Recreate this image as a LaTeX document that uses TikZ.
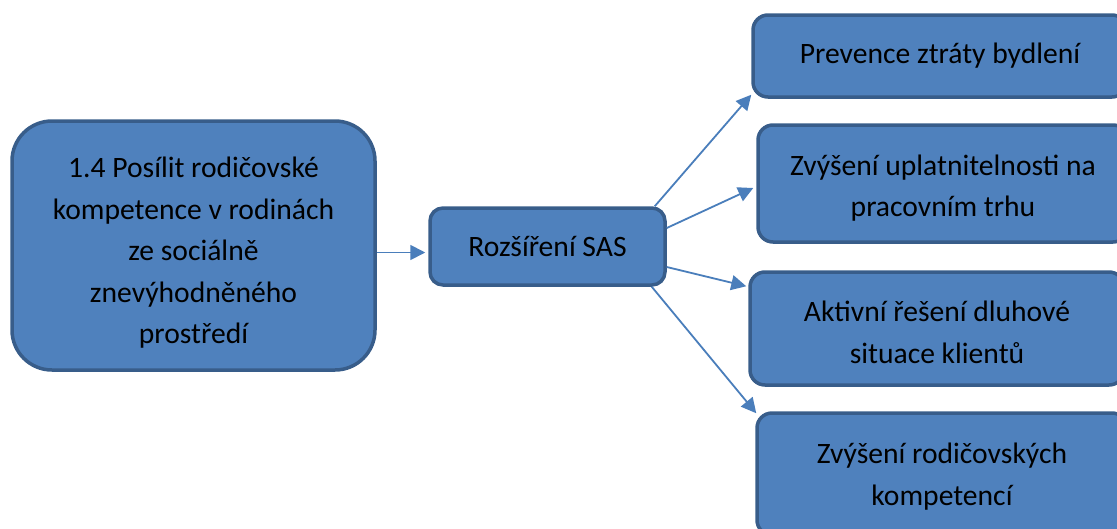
\documentclass[tikz,border=0pt]{standalone}
\usepackage{fontspec}
\setmainfont{Carlito}
\usetikzlibrary{arrows.meta}
\definecolor{boxfill}{HTML}{4F81BD}
\definecolor{boxline}{HTML}{385D8A}
\definecolor{arrcol}{HTML}{4A7EBB}
\newcommand\mytopstrut[1]{\rule{0pt}{#1}}
\tikzset{
  box/.style={draw=boxline, fill=boxfill, line width=3.5pt, align=center,
    inner sep=0pt, font=\fontsize{29.6}{41.5}\selectfont, text=black},
  arr/.style={draw=arrcol, line width=1.8pt, -{Triangle[length=15pt,width=15pt]}}
}
\begin{document}
\begin{tikzpicture}[x=1pt,y=-1pt]
\useasboundingbox (0,0) rectangle (1117,528);
\node[box, minimum width=363pt, minimum height=249pt, rounded corners=40pt] (src) at (193.5,245.5)
  {\mytopstrut{35pt}1.4 Posílit rodičovské\\kompetence v rodinách\\ze sociálně\\znevýhodněného\\prostředí};
\node[box, minimum width=235pt, minimum height=77pt, rounded corners=13pt] (mid) at (547.5,246.5) {Rozšíření SAS};
\node[box, minimum width=374pt, minimum height=82pt, rounded corners=15pt] (b1) at (940,56) {Prevence ztráty bydlení};
\node[box, minimum width=370pt, minimum height=117pt, rounded corners=15pt] (b2) at (943,183.5) {\mytopstrut{30pt}Zvýšení uplatnitelnosti na\\pracovním trhu};
\node[box, minimum width=374pt, minimum height=113pt, rounded corners=15pt] (b3) at (937,328.5) {\mytopstrut{28pt}Aktivní řešení dluhové\\situace klientů};
\node[box, minimum width=370pt, minimum height=122pt, rounded corners=15pt] (b4) at (942,474) {\mytopstrut{26pt}Zvýšení rodičovských\\kompetencí};
\coordinate (a0) at ([yshift=-7pt]src.east);
\draw[arr] (a0) -- ([xshift=-3pt]a0 -| mid.west);
\draw[arr] ([xshift=-12pt]mid.north east) -- ([yshift=4pt]b1.south west);
\draw[arr] ([yshift=18.5pt]mid.east) -- ([shift={(-3pt,-4.5pt)}]b2.west);
\draw[arr] ([yshift=-20.5pt]mid.east) -- ([shift={(-2pt,-16pt)}]b3.north west);
\draw[arr] ([xshift=-15pt]mid.south east) -- ([shift={(1pt,-2pt)}]b4.north west);
\end{tikzpicture}
\end{document}
